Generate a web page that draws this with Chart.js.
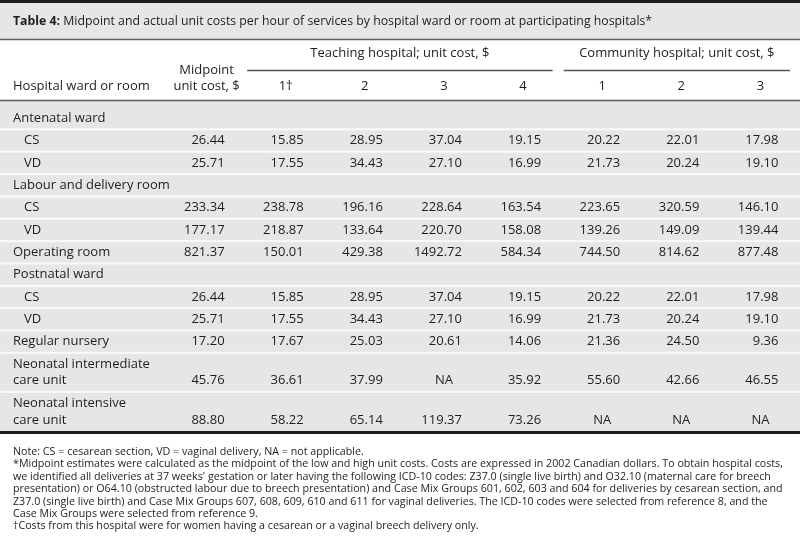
<!DOCTYPE html>
<html>
<head>
<meta charset="utf-8">
<script src="https://cdn.jsdelivr.net/npm/chart.js@4.4.0/dist/chart.umd.min.js"></script>
<style>
  html, body { margin: 0; padding: 0; background: #fff; }
  canvas { display: block; }
</style>
</head>
<body>
<canvas id="table4" width="800" height="543"></canvas>
<script>
// Table text
const TITLE_BOLD = 'Table 4:';
const TITLE_TEXT = ' Midpoint and actual unit costs per hour of services by hospital ward or room at participating hospitals*';
const STUB_HEAD = 'Hospital ward or room';
const COLUMN_HEADS = [['Midpoint', 'unit cost, $'], ['1†'], ['2'], ['3'], ['4'], ['1'], ['2'], ['3']];
const GROUP_HEADS = ['Teaching hospital; unit cost, $', 'Community hospital; unit cost, $'];
const GROUP_SPANS = [[1, 4], [5, 7]];

const ROW_LABELS = [
    ['Antenatal ward'], ['CS'], ['VD'],
    ['Labour and delivery room'], ['CS'], ['VD'],
    ['Operating room'],
    ['Postnatal ward'], ['CS'], ['VD'],
    ['Regular nursery'],
    ['Neonatal intermediate', 'care unit'],
    ['Neonatal intensive', 'care unit']
];
const ROW_SUB = [false, true, true, false, true, true, false, false, true, true, false, false, false];

// 数值 (null = 空, 'NA' = not applicable)
const midpoint   = [null, 26.44, 25.71, null, 233.34, 177.17, 821.37, null, 26.44, 25.71, 17.20, 45.76, 88.80];
const teaching1  = [null, 15.85, 17.55, null, 238.78, 218.87, 150.01, null, 15.85, 17.55, 17.67, 36.61, 58.22];
const teaching2  = [null, 28.95, 34.43, null, 196.16, 133.64, 429.38, null, 28.95, 34.43, 25.03, 37.99, 65.14];
const teaching3  = [null, 37.04, 27.10, null, 228.64, 220.70, 1492.72, null, 37.04, 27.10, 20.61, 'NA', 119.37];
const teaching4  = [null, 19.15, 16.99, null, 163.54, 158.08, 584.34, null, 19.15, 16.99, 14.06, 35.92, 73.26];
const community1 = [null, 20.22, 21.73, null, 223.65, 139.26, 744.50, null, 20.22, 21.73, 21.36, 55.60, 'NA'];
const community2 = [null, 22.01, 20.24, null, 320.59, 149.09, 814.62, null, 22.01, 20.24, 24.50, 42.66, 'NA'];
const community3 = [null, 17.98, 19.10, null, 146.10, 139.44, 877.48, null, 17.98, 19.10, 9.36, 46.55, 'NA'];
const COLUMNS = [midpoint, teaching1, teaching2, teaching3, teaching4, community1, community2, community3];

const NOTES = [
    'Note: CS = cesarean section, VD = vaginal delivery, NA = not applicable.',
    '*Midpoint estimates were calculated as the midpoint of the low and high unit costs. Costs are expressed in 2002 Canadian dollars. To obtain hospital costs,',
    "we identified all deliveries at 37 weeks' gestation or later having the following ICD-10 codes: Z37.0 (single live birth) and O32.10 (maternal care for breech",
    'presentation) or O64.10 (obstructed labour due to breech presentation) and Case Mix Groups 601, 602, 603 and 604 for deliveries by cesarean section, and',
    'Z37.0 (single live birth) and Case Mix Groups 607, 608, 609, 610 and 611 for vaginal deliveries. The ICD-10 codes were selected from reference 8, and the',
    'Case Mix Groups were selected from reference 9.',
    '†Costs from this hospital were for women having a cesarean or a vaginal breech delivery only.'
];

const FONT = '"Open Sans", "Noto Sans", sans-serif';
const TEXT = '#1e1e1e';
const GREY = '#e6e6e7';
const ROW_PAD = 0.335;  // 行内上下留白 (单位: 行高)

// 行在 y 轴上的位置 (单位: 文本行)
const rowTop = [];
let acc = 0;
ROW_LABELS.forEach((lines) => {
    rowTop.push(acc);
    acc += lines.length + ROW_PAD;
});
const TOTAL = acc;
const lineY = (r, j) => rowTop[r] + ROW_PAD / 2 + j + 0.5;

const datasets = COLUMNS.map((col, c) => ({
    label: 'col' + c,
    data: col.map((v, r) => v === null ? null : { x: c, y: lineY(r, ROW_LABELS[r].length - 1), v: v })
             .filter(Boolean),
    pointRadius: 0
}));

function hline(ctx, x1, x2, y, w, color) {
    ctx.fillStyle = color;
    ctx.fillRect(x1, y - w / 2, x2 - x1, w);
}

const tablePlugin = {
    id: 'table4',
    beforeDraw(chart) {
        const { ctx, chartArea, scales } = chart;
        const W = chart.width;
        const x = scales.x, y = scales.y;
        ctx.save();
        ctx.fillStyle = '#fff';
        ctx.fillRect(0, 0, W, chart.height);

        // title bar
        ctx.fillStyle = GREY;
        ctx.fillRect(0, 0, W, 39);
        hline(ctx, 0, W, 1.5, 3, '#1c1c1c');
        hline(ctx, 0, W, 39.5, 1.5, '#5e5e5e');

        // body
        ctx.fillStyle = GREY;
        ctx.fillRect(0, 100, W, chartArea.bottom - 100);
        hline(ctx, 0, W, 100.5, 1.5, '#5e5e5e');
        for (let r = 1; r < rowTop.length; r++) {
            hline(ctx, 0, W, y.getPixelForValue(rowTop[r]), 2, '#fafafa');
        }
        hline(ctx, 0, W, chartArea.bottom + 1.5, 3, '#1c1c1c');

        ctx.fillStyle = TEXT;
        ctx.textBaseline = 'middle';

        // title
        ctx.textAlign = 'left';
        ctx.font = 'bold 12.3px ' + FONT;
        ctx.fillText(TITLE_BOLD, 13, 21);
        const bw = ctx.measureText(TITLE_BOLD).width;
        ctx.font = '12.3px ' + FONT;
        ctx.fillText(TITLE_TEXT, 13 + bw, 21);

        // header
        ctx.font = '13px ' + FONT;
        ctx.fillText(STUB_HEAD, 13, 86);
        ctx.textAlign = 'center';
        GROUP_HEADS.forEach((g, i) => {
            const [a, b] = GROUP_SPANS[i];
            const x1 = x.getPixelForValue(a - 0.5) + 1;
            const x2 = Math.min(x.getPixelForValue(b + 0.5) - 10, W - 3);
            ctx.fillStyle = TEXT;
            ctx.fillText(g, (x1 + x2) / 2, 53);
            hline(ctx, x1, x2, 70.5, 1.5, '#555');
        });
        ctx.fillStyle = TEXT;
        COLUMN_HEADS.forEach((lines, c) => {
            const cx = x.getPixelForValue(c);
            lines.forEach((t, j) => {
                ctx.fillText(t, cx, 86 - (lines.length - 1 - j) * 16);
            });
        });

        // row labels
        ctx.textAlign = 'left';
        ROW_LABELS.forEach((lines, r) => {
            lines.forEach((t, j) => {
                ctx.fillText(t, ROW_SUB[r] ? 24 : 13, y.getPixelForValue(lineY(r, j)));
            });
        });

        // notes
        ctx.font = '10.7px ' + FONT;
        NOTES.forEach((t, i) => {
            ctx.fillText(t, 13, 452 + i * 12.4);
        });
        ctx.restore();
    },
    afterDatasetsDraw(chart) {
        const { ctx } = chart;
        ctx.save();
        ctx.font = '13px ' + FONT;
        ctx.fillStyle = TEXT;
        ctx.textBaseline = 'middle';
        chart.data.datasets.forEach((ds, i) => {
            const meta = chart.getDatasetMeta(i);
            meta.data.forEach((pt, k) => {
                const v = ds.data[k].v;
                if (v === 'NA') {
                    ctx.textAlign = 'center';
                    ctx.fillText('NA', pt.x, pt.y);
                } else {
                    ctx.textAlign = 'right';
                    ctx.fillText(v.toFixed(2), pt.x + 18, pt.y);
                }
            });
        });
        ctx.restore();
    }
};

new Chart(document.getElementById('table4'), {
    type: 'scatter',
    data: { datasets: datasets },
    options: {
        responsive: false,
        animation: false,
        events: [],
        devicePixelRatio: 1,
        layout: { padding: { left: 167, right: 0, top: 107, bottom: 112 } },
        plugins: { legend: { display: false }, tooltip: { enabled: false } },
        scales: {
            x: { type: 'linear', min: -0.5, max: 7.5, display: false },
            y: { type: 'linear', reverse: true, min: 0, max: TOTAL, display: false }
        }
    },
    plugins: [tablePlugin]
});
</script>
</body>
</html>
